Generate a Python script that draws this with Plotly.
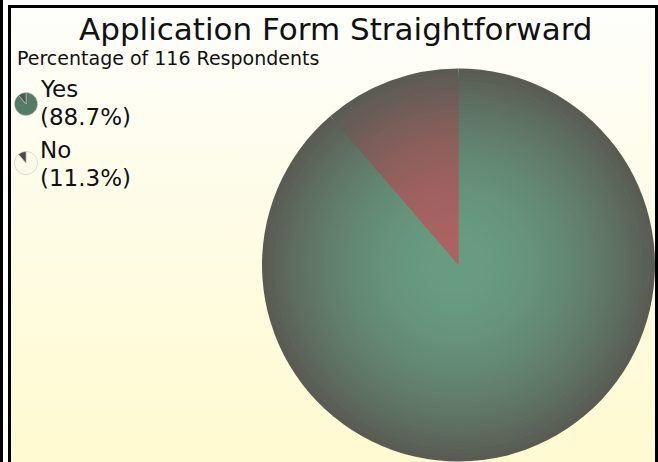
import numpy as np
import plotly.graph_objects as go

# ---- data ----
labels = ["Yes", "No"]
percentages = [88.7, 11.3]
title_text = "Application Form Straightforward"
subtitle_text = "Percentage of 116 Respondents"

W, H = 658, 462

fig = go.Figure()

# background panel with vertical gradient
fig.add_trace(go.Scatter(
    x=[9.5, 656.5, 656.5, 9.5, 9.5], y=[-5, -5, H - 6.5, H - 6.5, -5],
    mode="lines", line=dict(width=0), fill="toself",
    fillgradient=dict(type="vertical",
                      colorscale=[[0, "#fffad0"], [0.5, "#fefce4"], [1, "#fefefb"]]),
    hoverinfo="skip", showlegend=False))

# main pie, drawn as concentric layers to give a radial shading
cx, cy, R = 458.5, 265.0, 196.5
center_cols = [np.array([104, 156, 128]), np.array([172, 98, 98])]
edge_col = np.array([90, 91, 83])
N = 48
for k in range(N):
    f = (N - k) / N            # radius fraction, largest first
    w = min(1.0, f ** 2.0)
    cols = []
    for c in center_cols:
        v = c * (1 - w) + edge_col * w
        cols.append("rgb(%d,%d,%d)" % tuple(np.round(v).astype(int)))
    r = R * f
    fig.add_trace(go.Pie(
        labels=labels, values=percentages, sort=False, direction="clockwise",
        rotation=0, textinfo="none",
        hoverinfo="label+percent" if k == 0 else "skip",
        marker=dict(colors=cols, line=dict(width=0)),
        domain=dict(x=[(cx - r) / W, (cx + r) / W], y=[(H - cy - r) / H, (H - cy + r) / H]),
        showlegend=False))

# legend icons (mini pies) and legend text
icon_r = 11.5
icon_centers = [(26, 104), (26, 163)]
icon_colors = [["#557a67", "#4a5a50"], ["#fcfaea", "#4a4a44"]]
for i, lab in enumerate(labels):
    icx, icy = icon_centers[i]
    fig.add_trace(go.Pie(
        labels=labels, values=percentages, sort=False, direction="clockwise",
        rotation=0, textinfo="none", hoverinfo="skip",
        marker=dict(colors=icon_colors[i], line=dict(color="#c8c6b4", width=0.6)),
        domain=dict(x=[(icx - icon_r) / W, (icx + icon_r) / W],
                    y=[(H - icy - icon_r) / H, (H - icy + icon_r) / H]),
        showlegend=False))

annotations = [
    dict(x=336, y=H - 29, text=title_text, showarrow=False, xref="x", yref="y",
         font=dict(family="DejaVu Sans", size=31, color="#111111"), xanchor="center", yanchor="middle"),
    dict(x=15, y=H - 58, text=subtitle_text, showarrow=False, xref="x", yref="y",
         font=dict(family="DejaVu Sans", size=19, color="#111111"), xanchor="left", yanchor="middle"),
]
legend_y = [(89, 117), (150, 178)]
for i, lab in enumerate(labels):
    y1, y2 = legend_y[i]
    annotations.append(dict(x=38, y=H - y1, text=lab, showarrow=False, xref="x", yref="y",
                            font=dict(family="DejaVu Sans", size=23, color="#111111"),
                            xanchor="left", yanchor="middle"))
    annotations.append(dict(x=38, y=H - y2, text=f"({percentages[i]:.1f}%)", showarrow=False,
                            xref="x", yref="y",
                            font=dict(family="DejaVu Sans", size=23, color="#111111"),
                            xanchor="left", yanchor="middle"))

shapes = [
    dict(type="line", xref="x", yref="y", x0=1.5, x1=1.5, y0=-10, y1=H + 2, line=dict(color="black", width=3)),
    dict(type="line", xref="x", yref="y", x0=9.5, x1=9.5, y0=-10, y1=H - 5, line=dict(color="black", width=3)),
    dict(type="line", xref="x", yref="y", x0=8, x1=660, y0=H - 6.5, y1=H - 6.5, line=dict(color="black", width=3)),
    dict(type="line", xref="x", yref="y", x0=656.5, x1=656.5, y0=-10, y1=H - 5, line=dict(color="black", width=3)),
]

fig.update_layout(
    width=W, height=H, margin=dict(l=0, r=0, t=0, b=0),
    paper_bgcolor="white", plot_bgcolor="rgba(0,0,0,0)",
    xaxis=dict(range=[0, W], visible=False, fixedrange=True),
    yaxis=dict(range=[0, H], visible=False, fixedrange=True),
    annotations=annotations, shapes=shapes, showlegend=False,
)

fig.write_html("out.html", config={"displayModeBar": False},
               post_script="document.body.style.margin='0';")
